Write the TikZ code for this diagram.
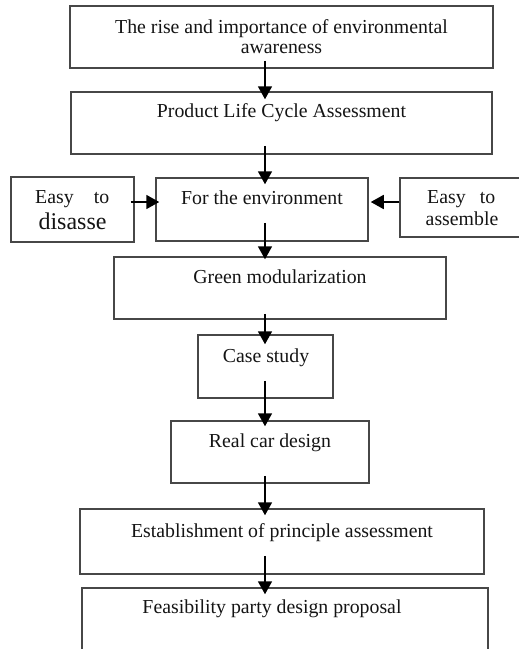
\documentclass[tikz,border=0pt]{standalone}
\usepackage{fontspec}
\setmainfont{Liberation Serif}
\usetikzlibrary{arrows.meta,calc}
\tikzset{
  boxr/.style={draw=black!72, line width=1.5pt, inner sep=0pt},
  txt/.style={inner sep=0pt, anchor=base, text=black!92, font=\fontsize{19.8}{24}\selectfont},
  arr/.style={line width=1.8pt, -{Triangle[length=13pt,width=14pt]}},
}
\begin{document}
\begin{tikzpicture}[x=1pt,y=-1pt]
\useasboundingbox (0,0) rectangle (519,649);
\clip (0,0) rectangle (519,649);
% boxes
\node[boxr, minimum width=423pt, minimum height=62pt] (b1) at (281.5,37) {};
\node[boxr, minimum width=421pt, minimum height=62pt] (b2) at (281.5,123) {};
\node[boxr, minimum width=123pt, minimum height=65pt] (bl) at (72.5,209.5) {};
\node[boxr, minimum width=212pt, minimum height=63pt] (b3) at (262,209.5) {};
\node[boxr, minimum width=126pt, minimum height=59pt] (br) at (463,207.5) {};
\node[boxr, minimum width=332pt, minimum height=62pt] (b4) at (280,288) {};
\node[boxr, minimum width=135pt, minimum height=63pt] (b5) at (265.5,366.5) {};
\node[boxr, minimum width=198pt, minimum height=62pt] (b6) at (270,452) {};
\node[boxr, minimum width=404pt, minimum height=65pt] (b7) at (282,541.5) {};
\node[boxr, minimum width=406pt, minimum height=72pt] (b8) at (285,624) {};
% texts
\node[txt] (t1a) at (281.5,33) {The rise and importance of environmental};
\node[txt] (t1b) at (281.5,53) {awareness};
\node[txt] (t2) at (281.5,117) {Product Life Cycle Assessment};
\node[txt, anchor=base west, text width=74pt] (tla) at (35,203) {Easy\hfill to};
\node[txt, font=\fontsize{24}{28}\selectfont] (tlb) at (72.5,229) {disasse};
\node[txt] (t3) at (262,204) {For the environment};
\node[txt, anchor=base west, text width=68pt] (tra) at (427,203) {Easy\hfill to};
\node[txt] (trb) at (462,225) {assemble};
\node[txt] (t4) at (280,283) {Green modularization};
\node[txt] (t5) at (266,362) {Case study};
\node[txt] (t6) at (270,447) {Real car design};
\node[txt] (t7) at (282,537) {Establishment of principle assessment};
\node[txt] (t8) at (272,613) {Feasibility party design proposal};
% arrows
\coordinate (ax) at (265,0);
\draw[arr] ($(b1.south -| ax)+(0,-8)$) -- ($(b2.north -| ax)+(0,8)$);
\draw[arr] ($(b2.south -| ax)+(0,-9)$) -- ($(b3.north -| ax)+(0,7)$);
\draw[arr] ($(b3.south -| ax)+(0,-19)$) -- ($(b4.north -| ax)+(0,3)$);
\draw[arr] ($(b4.south -| ax)+(0,-6)$) -- ($(b5.north -| ax)+(0,10)$);
\draw[arr] ($(b5.south -| ax)+(0,-18)$) -- ($(b6.north -| ax)+(0,6)$);
\draw[arr] ($(b6.south -| ax)+(0,-8)$) -- ($(b7.north -| ax)+(0,7)$);
\draw[arr] ($(b7.south -| ax)+(0,-19)$) -- ($(b8.north -| ax)+(0,7)$);
\coordinate (ay) at (0,202);
\draw[arr] ($(bl.east |- ay)+(-4,0)$) -- ($(b3.west |- ay)+(4,0)$);
\draw[arr] (br.west |- ay) -- ($(b3.east |- ay)+(2,0)$);
\end{tikzpicture}
\end{document}
